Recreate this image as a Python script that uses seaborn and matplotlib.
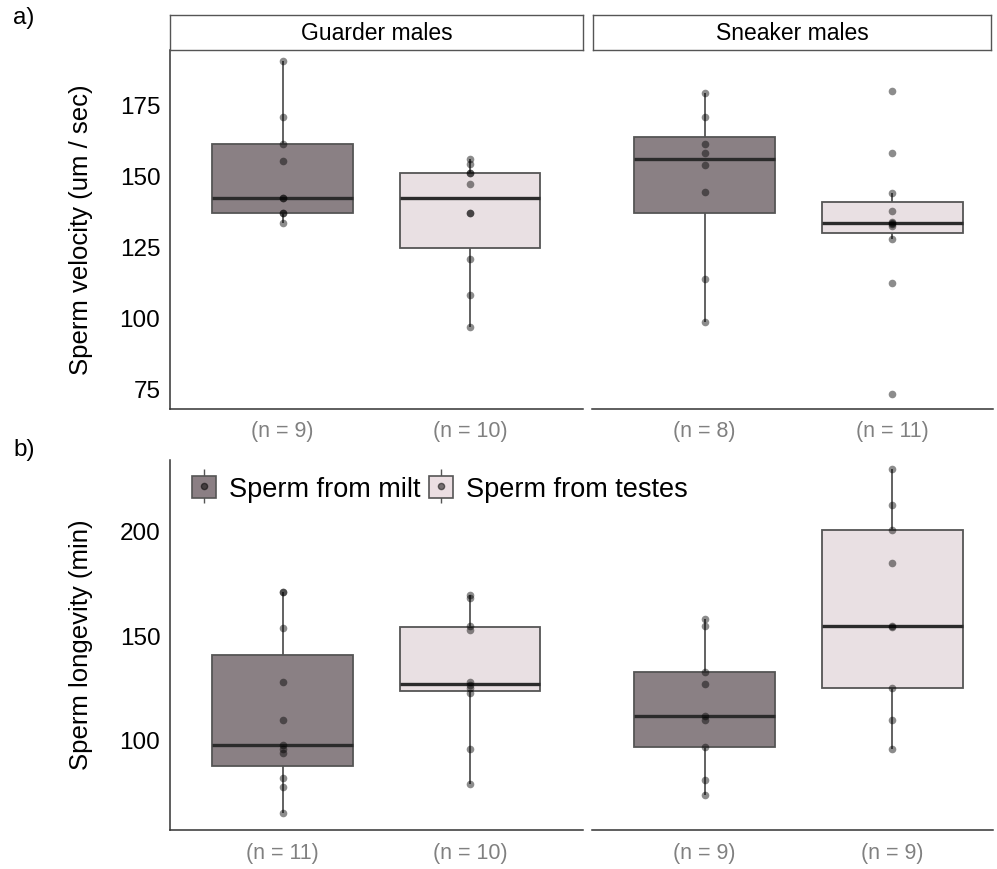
import numpy as np
import pandas as pd
import matplotlib
matplotlib.use('Agg')
import matplotlib.pyplot as plt
import seaborn as sns
from matplotlib.patches import Patch
from matplotlib.lines import Line2D
from matplotlib.legend_handler import HandlerTuple

# 데이터
groups = ['Guarder males', 'Sneaker males']
sources = ['Sperm from milt', 'Sperm from testes']

vel_guarder_milt = [190.6, 170.9, 161.2, 155.4, 142.3, 142.3, 137.1, 137.1, 133.5]
vel_guarder_testes = [156.0, 154.2, 151.0, 151.0, 147.3, 137.1, 137.1, 120.8, 108.3, 97.1]
vel_sneaker_milt = [179.2, 170.8, 161.4, 158.3, 154.0, 144.6, 114.0, 98.7]
vel_sneaker_testes = [179.8, 158.1, 144.1, 137.9, 134.0, 133.6, 133.2, 132.5, 127.8, 112.6, 73.5]

lon_guarder_milt = [171.0, 171.0, 153.9, 128.0, 109.9, 97.9, 96.0, 94.0, 82.0, 77.9, 65.3]
lon_guarder_testes = [169.9, 168.3, 154.7, 152.8, 128.0, 126.7, 125.3, 123.0, 95.9, 79.1]
lon_sneaker_milt = [158.3, 155.0, 133.0, 127.1, 111.9, 109.9, 97.0, 81.0, 73.9]
lon_sneaker_testes = [229.9, 213.0, 201.1, 184.9, 155.1, 154.5, 125.1, 109.9, 96.0]

palette = {'Sperm from milt': '#8b7f84', 'Sperm from testes': '#ebdee2'}


def make_df(guarder_milt, guarder_testes, sneaker_milt, sneaker_testes):
    rows = []
    for g, s, vals in [(groups[0], sources[0], guarder_milt), (groups[0], sources[1], guarder_testes),
                       (groups[1], sources[0], sneaker_milt), (groups[1], sources[1], sneaker_testes)]:
        for v in vals:
            rows.append({'group': g, 'source': s, 'value': v})
    return pd.DataFrame(rows)


df_vel = make_df(vel_guarder_milt, vel_guarder_testes, vel_sneaker_milt, vel_sneaker_testes)
df_lon = make_df(lon_guarder_milt, lon_guarder_testes, lon_sneaker_milt, lon_sneaker_testes)

sns.set_style('white')
plt.rcParams['font.family'] = ['Liberation Sans', 'DejaVu Sans']
plt.rcParams['text.color'] = 'black'
plt.rcParams['axes.labelcolor'] = 'black'

W, H = 997, 869
fig = plt.figure(figsize=(W / 100, H / 100), dpi=100)


def px_axes(x0, y0, x1, y1):
    return fig.add_axes([x0 / W, 1 - y1 / H, (x1 - x0) / W, (y1 - y0) / H])


axc = '#333333'


def draw_panel(ax, sub, ylim, yticks, first):
    ax.set_facecolor('none')
    sns.boxplot(data=sub, x='source', y='value', hue='source', order=sources, hue_order=sources,
                palette=palette, width=0.75, showfliers=False, showcaps=False, linewidth=1.3,
                linecolor='#555555', medianprops=dict(color='#2b2b2b', linewidth=2.4),
                legend=False, ax=ax)
    sns.stripplot(data=sub, x='source', y='value', order=sources, jitter=False, color='black',
                  alpha=0.45, size=5.5, ax=ax)
    ax.set_ylim(*ylim)
    ax.set_xlim(-0.6, 1.6 if first else 1.537)
    counts = sub.groupby('source')['value'].size()
    ax.set_xticks([0, 1])
    ax.set_xticklabels([f'(n = {counts[s]})' for s in sources], color='#808080', fontsize=15.5)
    ax.set_xlabel('')
    for sp in ['top', 'right']:
        ax.spines[sp].set_visible(False)
    ax.spines['bottom'].set_color(axc)
    ax.spines['bottom'].set_linewidth(1.1)
    ax.tick_params(axis='x', length=4, width=1.0, color=axc, pad=5)
    if first:
        ax.spines['left'].set_color(axc)
        ax.spines['left'].set_linewidth(1.1)
        ax.set_yticks(yticks)
        ax.tick_params(axis='y', length=4, width=1.0, color=axc, labelsize=17.5, labelcolor='black', pad=3)
    else:
        ax.spines['left'].set_visible(False)
        ax.set_yticks([])
        ax.set_ylabel('')


# a) 정자 속도
ax1 = px_axes(170, 50, 582.7, 409)
ax2 = px_axes(592, 50, 993, 409)
draw_panel(ax1, df_vel[df_vel['group'] == groups[0]], (68.1, 194.4), [75, 100, 125, 150, 175], True)
draw_panel(ax2, df_vel[df_vel['group'] == groups[1]], (68.1, 194.4), [], False)
ax1.set_ylabel('Sperm velocity (um / sec)', fontsize=18.5, labelpad=19)

# 패널 제목 (strip)
for x0, x1, name in [(170, 582.7, groups[0]), (593, 991, groups[1])]:
    sax = px_axes(x0, 15, x1, 50)
    sax.set_xticks([])
    sax.set_yticks([])
    sax.set_facecolor('white')
    for sp in sax.spines.values():
        sp.set_color('#555555')
        sp.set_linewidth(1.0)
    sax.text(0.5, 0.47, name, ha='center', va='center', fontsize=16.5, transform=sax.transAxes)

# b) 정자 수명
ax3 = px_axes(170, 460, 582.7, 830)
ax4 = px_axes(592, 460, 993, 830)
draw_panel(ax3, df_lon[df_lon['group'] == groups[0]], (57.2, 234.4), [100, 150, 200], True)
draw_panel(ax4, df_lon[df_lon['group'] == groups[1]], (57.2, 234.4), [], False)
ax3.set_ylabel('Sperm longevity (min)', fontsize=18.5, labelpad=19)

# 범례
handles = []
for s in sources:
    handles.append((Line2D([], [], color='#555555', marker='|', linestyle='none', markersize=24, markeredgewidth=1.0),
                    Patch(facecolor=palette[s], edgecolor='#555555', linewidth=1.2),
                    Line2D([], [], color='black', marker='o', linestyle='none', markersize=4.5, alpha=0.5)))
fig.legend(handles, sources, handler_map={tuple: HandlerTuple(ndivide=1)}, ncol=2, frameon=False,
           fontsize=19.5, loc='upper left', bbox_to_anchor=(192 / W, 1 - 476 / H),
           handlelength=0.9, handleheight=0.9,
           handletextpad=0.48, columnspacing=0.3, borderaxespad=0, borderpad=0)

fig.text(13 / W, 1 - 7 / H, 'a)', fontsize=17.5, ha='left', va='top')
fig.text(13 / W, 1 - 439 / H, 'b)', fontsize=17.5, ha='left', va='top')

fig.savefig('out.png', dpi=100)
